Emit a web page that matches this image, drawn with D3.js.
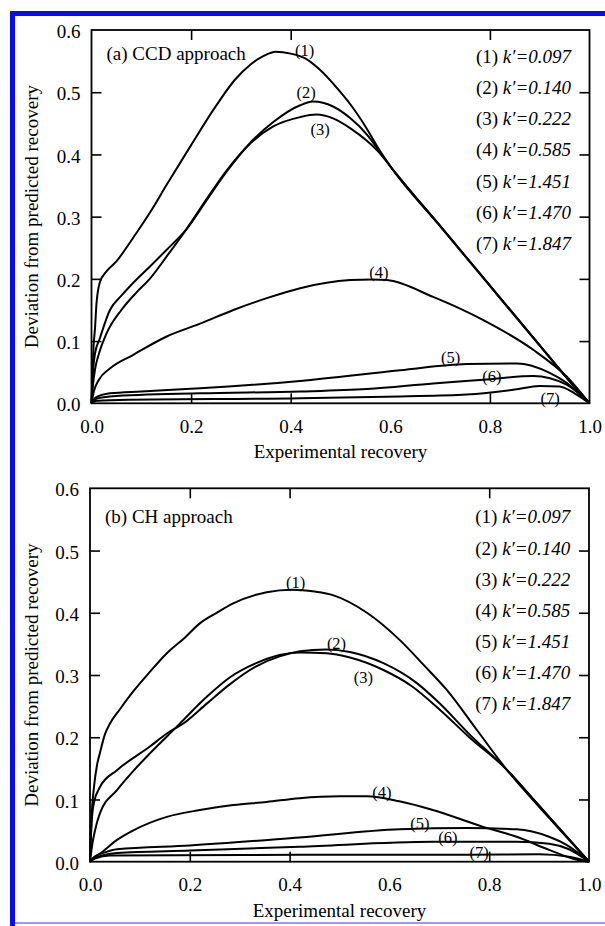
<!DOCTYPE html>
<html>
<head>
<meta charset="utf-8">
<script src="https://cdn.jsdelivr.net/npm/d3@7"></script>
<style>
  body { margin: 0; background: #fff; }
</style>
</head>
<body>
<div id="chart"></div>
<script>
var kValues = ["0.097", "0.140", "0.222", "0.585", "1.451", "1.470", "1.847"];
var xTicks = [0, 0.2, 0.4, 0.6, 0.8, 1.0];
var yTicks = [0, 0.1, 0.2, 0.3, 0.4, 0.5, 0.6];

// (a) CCD approach, curves 1..7 as [experimental recovery, deviation]
var ccd1 = [[0,0],[0.002,0.05],[0.004,0.09],[0.007,0.12],[0.01,0.16],[0.017,0.195],[0.03,0.212],[0.05,0.228],[0.07,0.25],[0.087,0.27],[0.12,0.31],[0.15,0.35],[0.2,0.415],[0.25,0.478],[0.288,0.52],[0.32,0.545],[0.345,0.558],[0.37,0.565],[0.4,0.562],[0.43,0.554],[0.456,0.538],[0.5,0.5],[0.523,0.477],[0.55,0.445],[0.576,0.41],[0.6,0.381],[0.7,0.285],[0.8,0.189],[0.9,0.093],[0.95,0.045],[1,0]];
var ccd2 = [[0,0],[0.003,0.05],[0.007,0.08],[0.017,0.105],[0.037,0.15],[0.06,0.173],[0.083,0.193],[0.12,0.222],[0.15,0.246],[0.19,0.279],[0.23,0.325],[0.272,0.373],[0.318,0.418],[0.365,0.452],[0.419,0.479],[0.445,0.485],[0.485,0.477],[0.52,0.458],[0.553,0.432],[0.58,0.403],[0.6,0.381],[0.7,0.285],[0.8,0.189],[0.9,0.093],[0.95,0.045],[1,0]];
var ccd3 = [[0,0],[0.003,0.03],[0.007,0.054],[0.015,0.08],[0.03,0.112],[0.06,0.15],[0.09,0.178],[0.117,0.2],[0.15,0.235],[0.19,0.279],[0.23,0.327],[0.272,0.375],[0.318,0.417],[0.365,0.445],[0.419,0.46],[0.452,0.464],[0.485,0.458],[0.52,0.442],[0.553,0.422],[0.58,0.401],[0.6,0.381],[0.7,0.285],[0.8,0.189],[0.9,0.093],[0.95,0.045],[1,0]];
var ccd4 = [[0,0],[0.005,0.02],[0.015,0.038],[0.037,0.056],[0.084,0.078],[0.15,0.107],[0.218,0.128],[0.285,0.15],[0.352,0.169],[0.419,0.185],[0.519,0.198],[0.563,0.199],[0.593,0.198],[0.686,0.171],[0.786,0.134],[0.887,0.086],[0.954,0.043],[1,0]];
var ccd5 = [[0,0],[0.008,0.009],[0.037,0.016],[0.1,0.019],[0.218,0.024],[0.419,0.036],[0.62,0.053],[0.753,0.063],[0.854,0.064],[0.92,0.049],[0.954,0.033],[1,0]];
var ccd6 = [[0,0],[0.008,0.007],[0.037,0.011],[0.218,0.016],[0.419,0.019],[0.553,0.023],[0.686,0.032],[0.787,0.038],[0.887,0.044],[0.954,0.03],[1,0]];
var ccd7 = [[0,0],[0.01,0.004],[0.037,0.005],[0.419,0.008],[0.62,0.011],[0.753,0.014],[0.85,0.022],[0.9,0.028],[0.94,0.027],[0.97,0.016],[1,0]];
var ccdLabels = [[0.428,0.568],[0.431,0.5],[0.459,0.441],[0.577,0.211],[0.721,0.074],[0.804,0.044],[0.921,0.008]];

// (b) CH approach
var ch1 = [[0,0],[0.003,0.07],[0.008,0.12],[0.014,0.155],[0.02,0.175],[0.03,0.205],[0.04,0.222],[0.06,0.245],[0.087,0.274],[0.12,0.305],[0.154,0.335],[0.19,0.36],[0.22,0.383],[0.254,0.4],[0.287,0.415],[0.354,0.433],[0.405,0.437],[0.45,0.434],[0.488,0.428],[0.555,0.4],[0.621,0.356],[0.67,0.315],[0.715,0.276],[0.775,0.212],[0.835,0.148],[0.9,0.088],[0.95,0.044],[1,0]];
var ch2 = [[0,0],[0.003,0.06],[0.008,0.095],[0.02,0.12],[0.054,0.147],[0.12,0.185],[0.154,0.206],[0.187,0.222],[0.234,0.254],[0.28,0.285],[0.333,0.314],[0.38,0.33],[0.421,0.338],[0.474,0.341],[0.521,0.337],[0.588,0.319],[0.655,0.287],[0.7,0.255],[0.76,0.205],[0.83,0.152],[0.9,0.09],[0.95,0.045],[1,0]];
var ch3 = [[0,0],[0.005,0.03],[0.01,0.05],[0.02,0.078],[0.054,0.115],[0.087,0.146],[0.12,0.174],[0.174,0.217],[0.234,0.265],[0.28,0.296],[0.333,0.319],[0.38,0.332],[0.421,0.336],[0.474,0.335],[0.521,0.328],[0.588,0.308],[0.645,0.282],[0.7,0.245],[0.76,0.2],[0.83,0.152],[0.9,0.09],[0.95,0.045],[1,0]];
var ch4 = [[0,0],[0.005,0.005],[0.02,0.013],[0.054,0.035],[0.086,0.05],[0.154,0.072],[0.22,0.083],[0.287,0.091],[0.354,0.096],[0.42,0.102],[0.5,0.105],[0.555,0.105],[0.62,0.097],[0.687,0.083],[0.788,0.056],[0.855,0.04],[0.92,0.019],[0.976,0.003],[1,0]];
var ch5 = [[0,0],[0.01,0.008],[0.03,0.015],[0.054,0.02],[0.2,0.026],[0.42,0.039],[0.621,0.052],[0.755,0.054],[0.855,0.052],[0.92,0.04],[0.955,0.027],[1,0]];
var ch6 = [[0,0],[0.01,0.006],[0.054,0.014],[0.2,0.018],[0.42,0.024],[0.687,0.032],[0.855,0.032],[0.92,0.029],[0.96,0.02],[1,0]];
var ch7 = [[0,0],[0.01,0.005],[0.04,0.01],[0.42,0.011],[0.755,0.011],[0.9,0.012],[0.96,0.008],[1,0]];
var chLabels = [[0.412,0.449],[0.494,0.351],[0.548,0.297],[0.585,0.1115],[0.661,0.062],[0.717,0.039],[0.78,0.015]];

var serif = "'Liberation Serif', 'Times New Roman', Times, serif";
var width = 605, height = 926;
var svg = d3.select("#chart").append("svg")
  .attr("width", width).attr("height", height)
  .attr("font-family", serif);

// blue page frame
svg.append("rect").attr("x", 10).attr("y", 11).attr("width", 5).attr("height", height - 11).attr("fill", "#0a0af5");
svg.append("rect").attr("x", 10).attr("y", 11).attr("width", width - 10).attr("height", 5).attr("fill", "#0a0af5");
svg.append("rect").attr("x", 15).attr("y", 922).attr("width", width - 15).attr("height", 2).attr("fill", "#9a9af0");

var panels = [
  { top: 30, bottom: 403.3, left: 91.5, right: 589.5, series: [ccd1, ccd2, ccd3, ccd4, ccd5, ccd6, ccd7], labels: ccdLabels, title: "(a) CCD approach", titleY: 60, legendDy: 2 },
  { top: 488.3, bottom: 861.7, left: 90, right: 589, series: [ch1, ch2, ch3, ch4, ch5, ch6, ch7], labels: chLabels, title: "(b) CH approach", titleY: 523, legendDy: 4 }
];

panels.forEach(function (p) {
  var x = d3.scaleLinear([0, 1], [p.left, p.right]);
  var y = d3.scaleLinear([0, 0.6], [p.bottom, p.top]);
  var g = svg.append("g");
  var fmt = d3.format(".1f");

  g.append("g")
    .attr("transform", "translate(0," + p.bottom + ")")
    .call(d3.axisBottom(x).tickValues(xTicks).tickFormat(fmt).tickSize(-10).tickPadding(16));
  g.append("g")
    .attr("transform", "translate(0," + p.top + ")")
    .call(d3.axisTop(x).tickValues(xTicks).tickFormat("").tickSize(-10));
  g.append("g")
    .attr("transform", "translate(" + p.left + ",0)")
    .call(d3.axisLeft(y).tickValues(yTicks).tickFormat(fmt).tickSize(-10).tickPadding(11))
    .call(function (a) { a.selectAll("text").attr("dy", "0.4em"); });
  g.append("g")
    .attr("transform", "translate(" + p.right + ",0)")
    .call(d3.axisRight(y).tickValues(yTicks).tickFormat("").tickSize(-10));

  g.selectAll(".domain").remove();
  g.selectAll(".tick").filter(function (d) { return d === 0 || d === 0.6 || d === 1; }).select("line").remove();
  g.selectAll(".tick line").attr("stroke", "#000").attr("stroke-width", 1.6);
  g.selectAll(".tick text").attr("fill", "#000");
  g.selectAll("g").attr("font-family", serif).attr("font-size", 19);

  g.append("rect")
    .attr("x", p.left).attr("y", p.top)
    .attr("width", p.right - p.left).attr("height", p.bottom - p.top)
    .attr("fill", "none").attr("stroke", "#000").attr("stroke-width", 1.8);

  var line = d3.line()
    .x(function (d) { return x(d[0]); })
    .y(function (d) { return y(d[1]); })
    .curve(d3.curveMonotoneX);

  g.append("g")
    .selectAll("path")
    .data(p.series)
    .join("path")
    .attr("d", line)
    .attr("fill", "none")
    .attr("stroke", "#000")
    .attr("stroke-width", 2);

  g.append("g")
    .attr("font-size", 16.5)
    .attr("text-anchor", "middle")
    .selectAll("text")
    .data(p.labels)
    .join("text")
    .attr("x", function (d) { return x(d[0]); })
    .attr("y", function (d) { return y(d[1]); })
    .attr("dy", "0.36em")
    .text(function (d, i) { return "(" + (i + 1) + ")"; });

  g.append("text")
    .attr("x", p.left + 15)
    .attr("y", p.titleY)
    .attr("font-size", 19)
    .text(p.title);

  var legend = g.append("g")
    .attr("font-size", 19)
    .selectAll("text")
    .data(kValues)
    .join("text")
    .attr("x", x(0.772))
    .attr("y", function (d, i) { return y(0.55 - i * 0.05) + p.legendDy; });
  legend.append("tspan").text(function (d, i) { return "(" + (i + 1) + ") "; });
  legend.append("tspan").attr("font-style", "italic").text(function (d) { return "k\u2032=" + d; });

  g.append("text")
    .attr("x", (p.left + p.right) / 2)
    .attr("y", p.bottom + 55)
    .attr("text-anchor", "middle")
    .attr("font-size", 19)
    .text("Experimental recovery");

  g.append("text")
    .attr("transform", "translate(38," + (p.top + p.bottom) / 2 + ") rotate(-90)")
    .attr("text-anchor", "middle")
    .attr("font-size", 19)
    .text("Deviation from predicted recovery");
});
</script>
</body>
</html>
